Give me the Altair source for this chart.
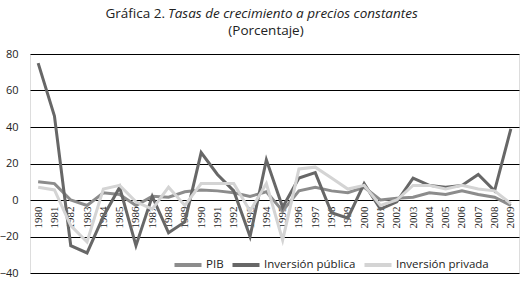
import altair as alt
import pandas as pd

years = [str(y) for y in range(1980, 2010)]
pib = [10, 9, 0, -3, 4, 3, -3, 2, 1.5, 4.5, 5.5, 5, 4, 2, 4.5, -6, 5, 7, 5, 4,
       7, 0, 1, 1.5, 4, 3, 5, 3, 1.5, -3]
publica = [75, 46, -25, -29, -9, 7, -25, 2, -18, -12, 26, 14, 5, -20, 22, -4, 12, 15, -7, -10,
           9, -5, -1, 12, 8, 7, 8, 14, 5, 39]
privada = [7, 5.5, -14, -23, 6, 8, -1, -5, 7, -3, 9, 9, 9, -6, 9, -22, 17, 18, 12, 6,
           8, -3, 0, 8, 8, 6, 8, 6, 5, -2]
series = ["PIB", "Inversión pública", "Inversión privada"]
colors = ["#8c8c8c", "#676767", "#d4d4d4"]
y_ticks = [-40, -20, 0, 20, 40, 60, 80]

rows = []
for name, vals in zip(series, [pib, publica, privada]):
    for yr, v in zip(years, vals):
        rows.append({"Año": yr, "Serie": name, "Valor": v})
df = pd.DataFrame(rows)

FONT = "Open Sans"

lines = alt.Chart(df).mark_line(strokeWidth=3).encode(
    x=alt.X("Año:O", scale=alt.Scale(type="point", padding=0.5),
            axis=alt.Axis(title=None, labelAngle=270, labelAlign="right", labelBaseline="middle",
                          labelPadding=6, ticks=False, domain=False, offset=-73,
                          labelFontSize=11, labelColor="#222222",
                          labelFont="Liberation Sans Narrow", grid=False)),
    y=alt.Y("Valor:Q", scale=alt.Scale(domain=[-40, 80], nice=False),
            axis=alt.Axis(title=None, values=y_ticks, ticks=False, domain=False, labelPadding=12,
                          grid=True, gridColor="#000000", gridWidth=1, labelFontSize=11,
                          labelColor="#222222", labelFont=FONT)),
    color=alt.Color("Serie:N", scale=alt.Scale(domain=series, range=colors), sort=series,
                    legend=alt.Legend(title=None, orient="none", legendX=142, legendY=195,
                                      direction="horizontal", symbolType="stroke",
                                      symbolSize=730, symbolStrokeWidth=4, labelFontSize=11.5,
                                      labelFont=FONT, labelColor="#222222", columnPadding=0,
                                      labelOffset=2)),
    order=alt.Order("Serie:N", sort="ascending"),
)

title_df = pd.DataFrame({"t1": ["Gráfica 2."], "t2": ["Tasas de crecimiento a precios constantes"],
                         "t3": ["(Porcentaje)"]})
t1 = alt.Chart(title_df).mark_text(align="right", baseline="alphabetic", fontSize=13.5, font=FONT,
                                   color="#222222").encode(text="t1:N", x=alt.value(135), y=alt.value(-36))
t2 = alt.Chart(title_df).mark_text(align="left", baseline="alphabetic", fontSize=13.5, font=FONT,
                                   fontStyle="italic", color="#222222").encode(text="t2:N", x=alt.value(138), y=alt.value(-36))
t3 = alt.Chart(title_df).mark_text(align="center", baseline="alphabetic", fontSize=13.5, font=FONT,
                                   color="#222222").encode(text="t3:N", x=alt.value(236), y=alt.value(-19))

chart = alt.layer(lines, t1, t2, t3).properties(
    width=489, height=219,
    autosize=alt.AutoSizeParams(type="none"),
    padding={"left": 30, "top": 54, "right": 9, "bottom": 10},
).configure_view(stroke="#000000", strokeWidth=1).configure(background="white")

chart.save("out.html", embed_options={"renderer": "svg", "actions": False})
